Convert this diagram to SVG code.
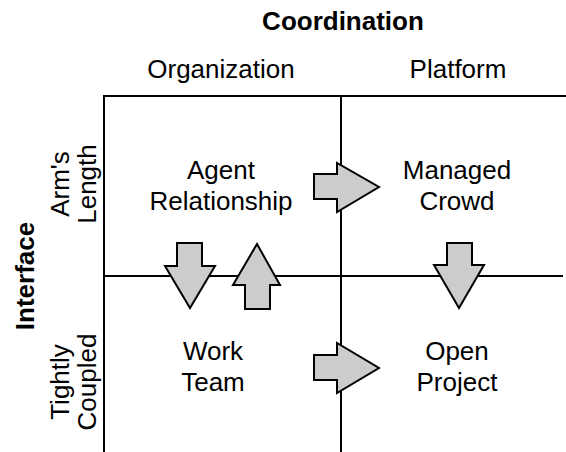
<svg xmlns="http://www.w3.org/2000/svg" width="566" height="452" viewBox="0 0 566 452">
<style>
text{font-family:"Liberation Sans",Arial,sans-serif;font-size:26px;fill:#000;text-anchor:middle}
.b{font-weight:bold}
.grid{stroke:#000;stroke-width:2;fill:none}
.arr{fill:#cccccc;stroke:#000;stroke-width:2;stroke-linejoin:miter}
</style>
<rect width="566" height="452" fill="#fff"/>
<g id="grid">
<line class="grid" x1="104" y1="96" x2="566" y2="96"/>
<line class="grid" x1="104" y1="276" x2="563" y2="276"/>
<line class="grid" x1="104" y1="95" x2="104" y2="452"/>
<line class="grid" x1="341" y1="95" x2="341" y2="452"/>
</g>
<g id="headers">
<text class="b" x="343" y="30">Coordination</text>
<text x="221" y="78">Organization</text>
<text x="458" y="78">Platform</text>
<text class="b" transform="translate(34,276) rotate(-90)">Interface</text>
<text transform="translate(69,184) rotate(-90)">Arm's</text>
<text transform="translate(96,184) rotate(-90)">Length</text>
<text transform="translate(69,382) rotate(-90)">Tightly</text>
<text transform="translate(96,382) rotate(-90)">Coupled</text>
</g>
<g id="agent"><text x="221" y="179">Agent</text><text x="221" y="210">Relationship</text></g>
<g id="crowd"><text x="457" y="179">Managed</text><text x="457" y="210">Crowd</text></g>
<g id="team"><text x="213" y="360">Work</text><text x="213" y="391">Team</text></g>
<g id="project"><text x="457" y="360">Open</text><text x="457" y="391">Project</text></g>
<g id="connectors">
<polygon class="arr" points="314,174 337,174 337,163 379,187 337,212 337,199 314,199"/>
<polygon class="arr" points="314,355 337,355 337,343 379,368 337,393 337,380 314,380"/>
<polygon class="arr" points="177,243 202,243 202,266 215,266 190,308 165,266 177,266"/>
<polygon class="arr" points="245,309 270,309 270,285 280,285 257,244 233,285 245,285"/>
<polygon class="arr" points="447,243 472,243 472,265 484,265 459,308 434,265 447,265"/>
</g>
</svg>
